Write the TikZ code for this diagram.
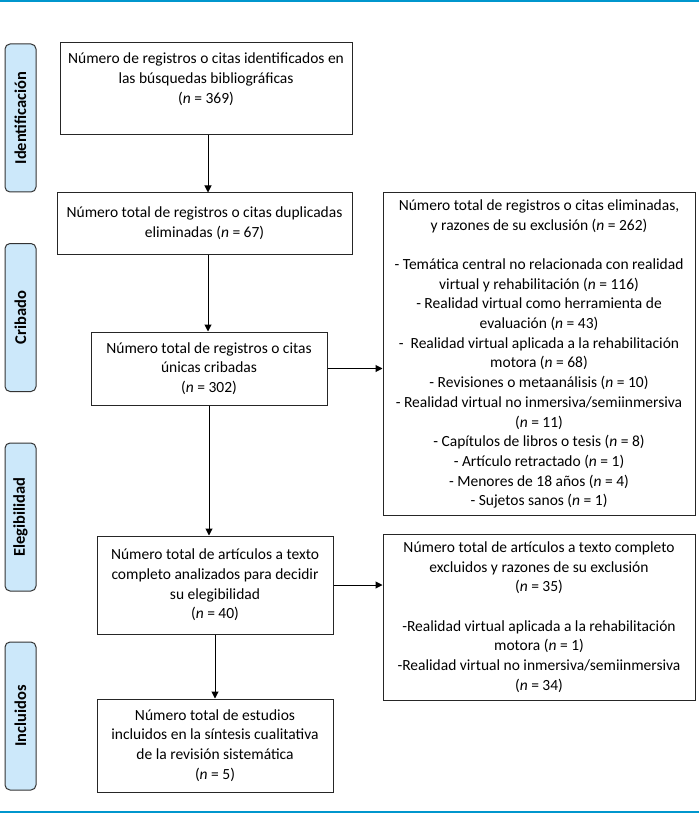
\documentclass[tikz,border=0pt]{standalone}
\usepackage{fontspec}
\setmainfont{Carlito}
\usetikzlibrary{arrows.meta}
\definecolor{topblue}{RGB}{0,150,205}
\definecolor{lblfill}{RGB}{204,232,250}
\begin{document}
\begin{tikzpicture}[x=1pt,y=-1pt,
  box/.style={draw=black!85, line width=1pt, inner sep=0pt, align=center,
    font=\fontsize{15.5}{19.7}\selectfont},
  lbl/.style={draw=black!80, fill=lblfill, rounded corners=5pt, line width=1pt,
    minimum width=148pt, minimum height=31pt, inner sep=0pt, rotate=90,
    font=\bfseries\fontsize{16.5}{18}\selectfont},
  arr/.style={-{Triangle[length=7pt,width=7pt]}, line width=1pt},
  rule/.style={draw=topblue, line width=1.6pt}]
\useasboundingbox (0,0) rectangle (699,826);
\draw[rule] (0,1) -- (699,1);
\draw[rule] (0,812) -- (699,812);

\node[lbl] (l1) at (20.5,118) {Identificación};
\node[lbl] (l2) at (20.5,317.5) {Cribado};
\node[lbl] (l3) at (20.5,517) {Elegibilidad};
\node[lbl] (l4) at (20.5,716) {Incluidos};

\node[box, minimum width=292pt, minimum height=92pt] (b1) at (206,89)
  {Número de registros o citas identificados en\\las búsquedas bibliográficas\\(\textit{n} = 369)\\[2pt]};
\node[box, minimum width=295pt, minimum height=61pt] (b2) at (204.5,223.5)
  {Número total de registros o citas duplicadas\\eliminadas (\textit{n} = 67)};
\node[box, minimum width=236pt, minimum height=73pt] (b3) at (209,368.5)
  {Número total de registros o citas\\únicas cribadas\\(\textit{n} = 302)};
\node[box, minimum width=236pt, minimum height=98pt] (b4) at (215,585)
  {Número total de artículos a texto\\completo analizados para decidir\\su elegibilidad\\(\textit{n} = 40)};
\node[box, minimum width=236pt, minimum height=93pt] (b5) at (215,745.5)
  {Número total de estudios\\incluidos en la síntesis cualitativa\\de la revisión sistemática\\(\textit{n} = 5)};

\node[box, minimum width=312pt, minimum height=322pt] (r1) at (539,354)
  {Número total de registros o citas eliminadas,\\
   y razones de su exclusión (\textit{n} = 262)\\[19.7pt]
   - Temática central no relacionada con realidad\\
   virtual y rehabilitación (\textit{n} = 116)\\
   - Realidad virtual como herramienta de\\
   evaluación (\textit{n} = 43)\\
   -\ \ Realidad virtual aplicada a la rehabilitación\\
   motora (\textit{n} = 68)\\
   - Revisiones o metaanálisis (\textit{n} = 10)\\
   - Realidad virtual no inmersiva/semiinmersiva\\
   (\textit{n} = 11)\\
   - Capítulos de libros o tesis (\textit{n} = 8)\\
   - Artículo retractado (\textit{n} = 1)\\
   - Menores de 18 años (\textit{n} = 4)\\
   - Sujetos sanos (\textit{n} = 1)};
\node[box, minimum width=312pt, minimum height=166pt] (r2) at (539,617)
  {Número total de artículos a texto completo\\
   excluidos y razones de su exclusión\\
   (\textit{n} = 35)\\[19.7pt]
   -Realidad virtual aplicada a la rehabilitación\\
   motora (\textit{n} = 1)\\
   -Realidad virtual no inmersiva/semiinmersiva\\
   (\textit{n} = 34)};

\draw[arr] ([xshift=2pt]b1.south) -- ([xshift=2pt]b1.south |- b2.north);
\draw[arr] ([xshift=-1pt]b3.north |- b2.south) -- ([xshift=-1pt]b3.north);
\draw[arr] (b3.south) -- (b3.south |- b4.north);
\draw[arr] (b4.south) -- (b5.north);
\draw[arr] (b3.east) -- (b3.east -| r1.west);
\draw[arr] (b4.east) -- (b4.east -| r2.west);
\end{tikzpicture}
\end{document}
